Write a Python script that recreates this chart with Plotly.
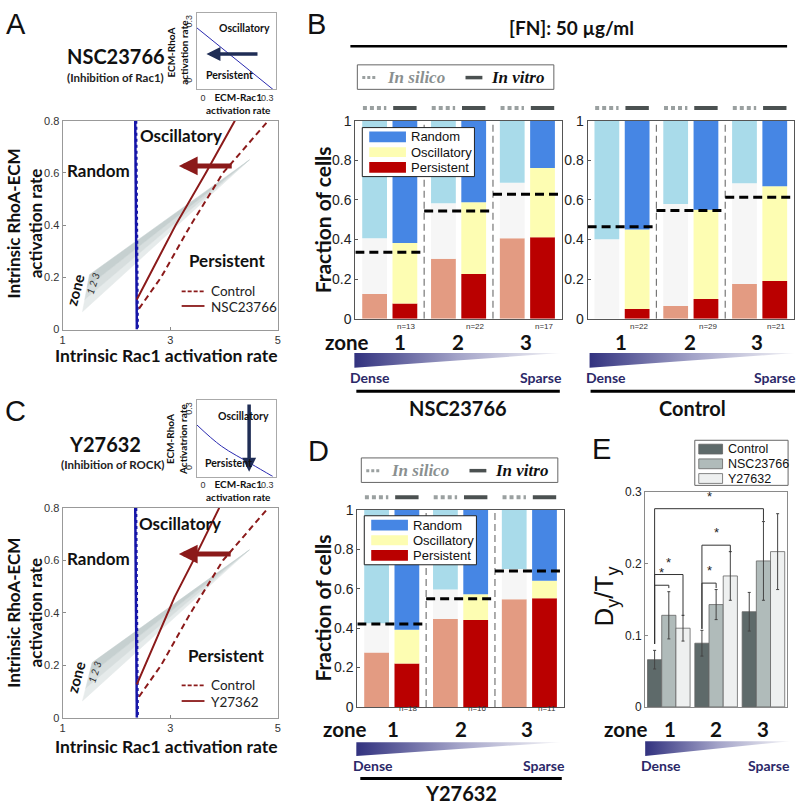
import plotly.graph_objects as go

W, H = 802, 809
def fx(p): return p / W
def fy(p): return 1 - p / H

CAL = "Lato"
ARI = "Liberation Sans"
SER = "Liberation Serif"

# ---------------- data ----------------
# insets (ECM-Rac1 vs ECM-RhoA boundary)
inset_A_x = [-0.03, 0.326]
inset_A_y = [0.275, -0.04]
inset_C_x = [-0.03, 0.086, 0.224, 0.326]
inset_C_y = [0.225, 0.115, 0.025, -0.04]

# phase diagrams A / C
blue_x = [2.35, 2.38]
blue_y = [0.8, 0.0]
control_x = [2.42, 2.83, 3.38, 3.98, 4.82]
control_y = [0.08, 0.20, 0.40, 0.60, 0.80]
nsc_line_x = [2.38, 3.10, 3.66, 4.20]
nsc_line_y = [0.115, 0.40, 0.60, 0.80]
y27_line_x = [2.38, 3.08, 3.43, 3.91]
y27_line_y = [0.127, 0.46, 0.60, 0.80]
band_A_x = [1.37, 1.50, 4.47]
band_A_y = [0.068, 0.21, 0.65]
band_C_x = [1.37, 1.55, 4.47]
band_C_y = [0.064, 0.21, 0.64]

# stacked fraction bars (persistent, oscillatory, random) per zone 1..3
zones = [1, 2, 3]
nsc_sil_P = [0.125, 0.303, 0.407]
nsc_sil_O = [0.282, 0.280, 0.280]
nsc_sil_R = [0.593, 0.417, 0.313]
nsc_vit_P = [0.077, 0.226, 0.412]
nsc_vit_O = [0.305, 0.362, 0.349]
nsc_vit_R = [0.618, 0.412, 0.239]
nsc_thr = [0.336, 0.544, 0.629]
nsc_n = [13, 22, 17]

ctl_sil_P = [0.0, 0.064, 0.175]
ctl_sil_O = [0.402, 0.516, 0.509]
ctl_sil_R = [0.598, 0.420, 0.316]
ctl_vit_P = [0.049, 0.100, 0.191]
ctl_vit_O = [0.402, 0.450, 0.478]
ctl_vit_R = [0.549, 0.450, 0.331]
ctl_thr = [0.465, 0.547, 0.613]
ctl_n = [22, 29, 21]

y27_sil_P = [0.276, 0.446, 0.546]
y27_sil_O = [0.148, 0.150, 0.154]
y27_sil_R = [0.576, 0.404, 0.300]
y27_vit_P = [0.220, 0.441, 0.552]
y27_vit_O = [0.171, 0.131, 0.088]
y27_vit_R = [0.609, 0.428, 0.360]
y27_thr = [0.421, 0.549, 0.690]
y27_n = [18, 16, 11]

# panel E
e_control = [0.066, 0.089, 0.133]
e_control_err = [0.013, 0.018, 0.027]
e_nsc = [0.128, 0.143, 0.204]
e_nsc_err = [0.033, 0.021, 0.055]
e_y27 = [0.110, 0.183, 0.217]
e_y27_err = [0.018, 0.034, 0.053]
# significance brackets: (group_left, zone_left, group_right, zone_right, bar_y, left_end, right_end)
e_brackets = [("c", 1, "n", 1, 0.170, 0.088, 0.166),
              ("c", 1, "y", 1, 0.185, 0.088, 0.127),
              ("c", 1, "n", 3, 0.277, 0.088, 0.260),
              ("c", 2, "n", 2, 0.173, 0.109, 0.166),
              ("c", 2, "y", 2, 0.226, 0.109, 0.216)]

# ---------------- styles ----------------
DRED = "#8B1A1A"
BLUE = "#1616A8"
C_SIL = {"P": "#E39B82", "O": "#F6F6F6", "R": "#A9DBEA"}
C_VIT = {"P": "#BA0000", "O": "#FDFDB2", "R": "#4686E4"}
E_COL = {"c": "#5E6A6A", "n": "#B0BBBA", "y": "#EEF0F0"}
E_OFF = {"c": -0.3, "n": 0.0, "y": 0.3}
NAVY = "#2B2868"

fig = go.Figure()
ann = []
shp = []

def T(x, y, text, size, family=CAL, color="#111", bold=False, italic=False,
      angle=0, xanchor="center", yanchor="middle"):
    if bold:
        text = "<b>%s</b>" % text
    if italic:
        text = "<i>%s</i>" % text
    ann.append(dict(x=fx(x), y=fy(y), xref="paper", yref="paper", text=text,
                    showarrow=False, textangle=angle, xanchor=xanchor, yanchor=yanchor,
                    font=dict(family=family, size=size, color=color)))

def L(x0, y0, x1, y1, color="black", width=1, dash="solid"):
    shp.append(dict(type="line", xref="paper", yref="paper", x0=fx(x0), y0=fy(y0),
                    x1=fx(x1), y1=fy(y1), line=dict(color=color, width=width, dash=dash)))

def R(x0, y0, x1, y1, fill, lc=None, lw=0):
    shp.append(dict(type="rect", xref="paper", yref="paper", x0=fx(x0), y0=fy(y0),
                    x1=fx(x1), y1=fy(y1), fillcolor=fill,
                    line=dict(color=lc or fill, width=lw)))

def base_axis(**kw):
    d = dict(showgrid=False, zeroline=False, showline=True, mirror=True,
             linecolor="#8a8a8a", linewidth=1, ticks="inside", ticklen=3,
             tickcolor="#8a8a8a", fixedrange=True,
             tickfont=dict(family=ARI, size=11, color="#333"))
    d.update(kw)
    return d

layout_axes = {}
def add_axes(n, xl, xr, yt, yb, xkw, ykw):
    xs = "xaxis" if n == 1 else "xaxis%d" % n
    ys = "yaxis" if n == 1 else "yaxis%d" % n
    yid = "y" if n == 1 else "y%d" % n
    xid = "x" if n == 1 else "x%d" % n
    layout_axes[xs] = base_axis(domain=[fx(xl), fx(xr)], anchor=yid, **xkw)
    layout_axes[ys] = base_axis(domain=[fy(yb), fy(yt)], anchor=xid, **ykw)
    return xid, yid

# ---------------- insets ----------------
inset_x = dict(range=[-0.03, 0.34], tickvals=[0, 0.3], ticktext=["0", "0.3"], ticks="",
               linecolor="#aaa", tickfont=dict(family=ARI, size=9, color="#333"))
inset_y = dict(range=[-0.04, 0.35], tickvals=[0, 0.3], ticktext=["0", "0.3"], ticks="",
               tickangle=-90, linecolor="#aaa", tickfont=dict(family=ARI, size=9, color="#333"))
ax1 = add_axes(1, 195, 275, 5, 83, dict(inset_x), dict(inset_y))
ax3 = add_axes(3, 195, 275, 400, 478, dict(inset_x), dict(inset_y))

for (xa, ya), ix, iy in [(ax1, inset_A_x, inset_A_y), (ax3, inset_C_x, inset_C_y)]:
    fig.add_trace(go.Scatter(x=ix, y=iy, mode="lines", line=dict(color="#2a2ab0", width=1),
                             xaxis=xa, yaxis=ya, line_shape="spline", hoverinfo="skip"))

# ---------------- phase diagrams ----------------
main_x = dict(range=[1, 5], tickvals=[1, 3, 5], ticktext=["1", "3", "5"], linecolor="#999")
main_y = dict(range=[0, 0.8], tickvals=[0, 0.2, 0.4, 0.6, 0.8],
              ticktext=["0", "0.2", "0.4", "0.6", "0.8"], linecolor="#999")
ax2 = add_axes(2, 60, 277, 115, 328, dict(main_x), dict(main_y))
ax4 = add_axes(4, 60, 277, 510, 724, dict(main_x), dict(main_y))

band_cols = ["#E6EBEB", "#D7DEDE", "#C6D0D0"]
for (xa, ya), bx, by, tx, ty in [(ax2, band_A_x, band_A_y, nsc_line_x, nsc_line_y),
                                 (ax4, band_C_x, band_C_y, y27_line_x, y27_line_y)]:
    (lx, ux, tipx), (ly, uy, tipy) = bx, by
    for k in range(3):
        f0, f1 = k / 3, (k + 1) / 3
        px = [lx + (ux - lx) * f0, lx + (ux - lx) * f1, tipx]
        py = [ly + (uy - ly) * f0, ly + (uy - ly) * f1, tipy]
        fig.add_trace(go.Scatter(x=px + [px[0]], y=py + [py[0]], fill="toself",
                                 fillcolor=band_cols[k], line=dict(width=0.5, color=band_cols[k]),
                                 mode="lines", xaxis=xa, yaxis=ya, hoverinfo="skip"))
    fig.add_trace(go.Scatter(x=blue_x, y=blue_y, mode="lines", line=dict(color=BLUE, width=2.5),
                             xaxis=xa, yaxis=ya, hoverinfo="skip"))
    fig.add_trace(go.Scatter(x=[v + 0.02 for v in blue_x], y=blue_y, mode="lines",
                             line=dict(color=BLUE, width=2, dash="dot"),
                             xaxis=xa, yaxis=ya, hoverinfo="skip"))
    fig.add_trace(go.Scatter(x=control_x, y=control_y, mode="lines",
                             line=dict(color=DRED, width=2, dash="6px,4px"),
                             xaxis=xa, yaxis=ya, hoverinfo="skip"))
    fig.add_trace(go.Scatter(x=tx, y=ty, mode="lines",
                             line=dict(color=DRED, width=2), xaxis=xa, yaxis=ya, hoverinfo="skip"))

# red arrows
for (xa, ya), yv, x0, x1 in [(ax2, 0.627, 4.17, 3.16), (ax4, 0.624, 4.15, 3.16)]:
    ann.append(dict(x=x1, y=yv, ax=x0, ay=yv, xref=xa, yref=ya, axref=xa, ayref=ya, text="",
                    showarrow=True, arrowhead=2, arrowsize=0.75, arrowwidth=5, arrowcolor=DRED))
# inset arrows
ann.append(dict(x=0.016, y=0.14, ax=0.261, ay=0.14, xref=ax1[0], yref=ax1[1], axref=ax1[0],
                ayref=ax1[1], text="", showarrow=True, arrowhead=2, arrowsize=0.8,
                arrowwidth=3.5, arrowcolor="#1F2D55"))
ann.append(dict(x=0.215, y=-0.015, ax=0.215, ay=0.335, xref=ax3[0], yref=ax3[1], axref=ax3[0],
                ayref=ax3[1], text="", showarrow=True, arrowhead=2, arrowsize=0.8,
                arrowwidth=3.5, arrowcolor="#1F2D55"))

# ---------------- fraction bar charts ----------------
bar_x = dict(range=[0, 3], showticklabels=False, ticks="", linecolor="#555")
bar_y = dict(range=[0, 1], tickvals=[0, 0.2, 0.4, 0.6, 0.8, 1],
             ticktext=["0", "0.2", "0.4", "0.6", "0.8", "1"], linecolor="#555", tickcolor="#555",
             tickfont=dict(family=ARI, size=14, color="#222"))
ax5 = add_axes(5, 355, 563, 115, 317, dict(bar_x), dict(bar_y))
ax6 = add_axes(6, 589, 797, 115, 317, dict(bar_x), dict(bar_y))
ax7 = add_axes(7, 357, 565, 512, 713, dict(bar_x), dict(bar_y))

SIL_OFF, VIT_OFF, BW = 0.28, 0.72, 0.36
charts = [
    (ax5, (nsc_sil_P, nsc_sil_O, nsc_sil_R), (nsc_vit_P, nsc_vit_O, nsc_vit_R), nsc_thr, nsc_n, 102, 325),
    (ax6, (ctl_sil_P, ctl_sil_O, ctl_sil_R), (ctl_vit_P, ctl_vit_O, ctl_vit_R), ctl_thr, ctl_n, 102, 325),
    (ax7, (y27_sil_P, y27_sil_O, y27_sil_R), (y27_vit_P, y27_vit_O, y27_vit_R), y27_thr, y27_n, 499, 721),
]
for (xa, ya), sil, vit, thr, nn, mark_y, n_y in charts:
    for series, off, cols in [(sil, SIL_OFF, C_SIL), (vit, VIT_OFF, C_VIT)]:
        P, O, Rr = series
        xs = [z - 1 + off for z in zones]
        fig.add_trace(go.Bar(x=xs, y=P, base=[0] * 3, width=BW, marker_color=cols["P"],
                             marker_line_width=0, xaxis=xa, yaxis=ya, hoverinfo="skip"))
        fig.add_trace(go.Bar(x=xs, y=O, base=P, width=BW, marker_color=cols["O"],
                             marker_line_width=0, xaxis=xa, yaxis=ya, hoverinfo="skip"))
        fig.add_trace(go.Bar(x=xs, y=Rr, base=[p + o for p, o in zip(P, O)], width=BW,
                             marker_color=cols["R"], marker_line_width=0,
                             xaxis=xa, yaxis=ya, hoverinfo="skip"))
    # zone dividers
    fig.add_trace(go.Scatter(x=[1, 1, None, 2, 2], y=[0, 1, None, 0, 1], mode="lines",
                             line=dict(color="#777", width=1.2, dash="7px,4px"),
                             xaxis=xa, yaxis=ya, hoverinfo="skip"))
    # thresholds
    tx, ty = [], []
    for z, t in zip(zones, thr):
        tx += [z - 1, z, None]
        ty += [t, t, None]
    fig.add_trace(go.Scatter(x=tx, y=ty, mode="lines",
                             line=dict(color="black", width=3, dash="9px,5px"),
                             xaxis=xa, yaxis=ya, hoverinfo="skip"))
    # in silico / in vitro markers above the bars
    for z in zones:
        shp.append(dict(type="line", xref=xa, yref="paper", x0=z - 1 + SIL_OFF - 0.17,
                        x1=z - 1 + SIL_OFF + 0.17, y0=fy(mark_y), y1=fy(mark_y),
                        line=dict(color="#9AA0A0", width=4, dash="4px,3px")))
        shp.append(dict(type="line", xref=xa, yref="paper", x0=z - 1 + VIT_OFF - 0.17,
                        x1=z - 1 + VIT_OFF + 0.17, y0=fy(mark_y), y1=fy(mark_y),
                        line=dict(color="#4B5151", width=4)))
    for z, n in zip(zones, nn):
        ann.append(dict(x=z - 1 + VIT_OFF + 0.03, y=fy(n_y), xref=xa, yref="paper",
                        text="n=%d" % n, showarrow=False,
                        font=dict(family=ARI, size=8, color="#333")))

# ---------------- panel E ----------------
ax8 = add_axes(8, 647, 790, 494, 713,
               dict(range=[0.5, 3.5], showticklabels=False, ticks="", linecolor="#8a8a8a"),
               dict(range=[0, 0.3], tickvals=[0, 0.1, 0.2, 0.3], ticktext=["0", "0.1", "0.2", "0.3"],
                    tickfont=dict(family=ARI, size=12, color="#222")))
for key, vals, errs in [("c", e_control, e_control_err), ("n", e_nsc, e_nsc_err), ("y", e_y27, e_y27_err)]:
    fig.add_trace(go.Bar(x=[z + E_OFF[key] for z in zones], y=vals, width=0.3,
                         marker=dict(color=E_COL[key], line=dict(color="#666", width=0.8)),
                         error_y=dict(type="data", array=errs, color="#444", thickness=1, width=1.5),
                         xaxis=ax8[0], yaxis=ax8[1], hoverinfo="skip"))
for gl, zl, gr, zr, yb, yle, yre in e_brackets:
    xl = zl + E_OFF[gl]
    xr = zr + E_OFF[gr]
    fig.add_trace(go.Scatter(x=[xl, xl, xr, xr], y=[yle, yb, yb, yre], mode="lines",
                             line=dict(color="#333", width=1), xaxis=ax8[0], yaxis=ax8[1],
                             hoverinfo="skip"))
    ann.append(dict(x=(xl + xr) / 2, y=yb + 0.004, xref=ax8[0], yref=ax8[1], text="*",
                    showarrow=False, yanchor="bottom",
                    font=dict(family=ARI, size=13, color="#222")))

# ---------------- overlay canvas (gradient wedges) ----------------
layout_axes["xaxis9"] = dict(domain=[0, 1], range=[0, W], visible=False, anchor="y9", fixedrange=True)
layout_axes["yaxis9"] = dict(domain=[0, 1], range=[H, 0], visible=False, anchor="x9", fixedrange=True)
wedges = [(354, 562, 352, 367), (591, 798, 352, 367), (356, 562, 749, 763), (647, 793, 748, 763)]
for xl, xr, yt, yb in wedges:
    fig.add_trace(go.Scatter(x=[xl, xr, xl, xl], y=[yt, yt, yb, yt], fill="toself", mode="lines",
                             line=dict(width=0),
                             fillgradient=dict(type="horizontal",
                                               colorscale=[[0, "#32327F"], [0.5, "#A3A3C8"], [1, "#F4F4F7"]]),
                             xaxis="x9", yaxis="y9", hoverinfo="skip"))

# ---------------- texts ----------------
# panel letters
for lt, x, y in [("A", 13, 16), ("B", 316, 16), ("C", 13, 411), ("D", 318, 452), ("E", 603, 450)]:
    T(x, y, lt, 29, family=ARI, color="#111")

# A
T(114, 49, "NSC23766", 20, bold=True)
T(113, 71, "(Inhibition of Rac1)", 11.5, bold=True, color="#222")
T(175, 45, "ECM-RhoA<br>activation rate", 10, bold=True, angle=-90)
T(237, 97, "ECM-Rac1<br>activation rate", 10, bold=True)
T(243, 20, "Oscillatory", 10.5, bold=True)
T(228, 68, "Persistent", 10.5, bold=True)
T(22, 220, "Intrinsic RhoA-ECM<br>activation rate", 17, bold=True, angle=-90)
T(165, 355, "Intrinsic Rac1 activation rate", 17.5, bold=True)
T(96, 166, "Random", 17, bold=True)
T(179, 130, "Oscillatory", 17, bold=True)
T(226, 258, "Persistent", 17, bold=True)
T(73, 287, "zone", 15, bold=True, angle=-75)
T(91, 281, "1 2 3", 10, italic=True, angle=-72, color="#333")
L(180, 289, 203, 289, DRED, 1.8, "4px,2px")
L(180, 304, 203, 304, DRED, 1.8)
T(208, 289, "Control", 13.5, xanchor="left", color="#222")
T(208, 305, "NSC23766", 13.5, xanchor="left", color="#222")

# C
T(103, 445, "Y27632", 20, bold=True)
T(111, 466, "(Inhibition of ROCK)", 11.5, bold=True, color="#222")
T(175, 440, "ECM-RhoA<br>Activatrion rate", 10, bold=True, angle=-90)
T(237, 492, "ECM-Rac1<br>activation rate", 10, bold=True)
T(242, 416, "Oscillatory", 10.5, bold=True)
T(227, 464, "Persistent", 10.5, bold=True)
T(22, 617, "Intrinsic RhoA-ECM<br>activation rate", 17, bold=True, angle=-90)
T(165, 753, "Intrinsic Rac1 activation rate", 17.5, bold=True)
T(96, 562, "Random", 17, bold=True)
T(178, 526, "Oscillatory", 17, bold=True)
T(225, 661, "Persistent", 17, bold=True)
T(73, 682, "zone", 15, bold=True, angle=-75)
T(92, 677, "1 2 3", 10, italic=True, angle=-72, color="#333")
L(180, 691, 203, 691, DRED, 1.8, "4px,2px")
L(180, 707, 203, 707, DRED, 1.8)
T(208, 691, "Control", 13.5, xanchor="left", color="#222")
T(208, 708, "Y27362", 13.5, xanchor="left", color="#222")

# B header
T(573, 20, "[FN]: 50 µg/ml", 19, bold=True)
L(350, 39, 790, 39, "black", 2.5)

def silico_legend(dx, dy):
    R(357 + dx, 58 + dy, 555 + dx, 83 + dy, "white", "#666", 1)
    L(362 + dx, 71 + dy, 376 + dx, 71 + dy, "#9AA0A0", 3, "3px,2px")
    T(385 + dx, 71 + dy, "In silico", 17, family=SER, color="#8A9090", bold=True, italic=True,
      xanchor="left")
    L(466 + dx, 71 + dy, 483 + dx, 71 + dy, "#4B5151", 3.5)
    T(490 + dx, 71 + dy, "In vitro", 17, family=SER, color="#111", bold=True, italic=True,
      xanchor="left")

silico_legend(0, 0)
silico_legend(4, 401)

def state_legend(dx, dy):
    R(362 + dx, 122 + dy, 475 + dx, 172 + dy, "white", "#222", 1)
    for (y0, y1, col, lab) in [(126, 137, C_VIT["R"], "Random"), (142, 152, C_VIT["O"], "Oscillatory"),
                               (157, 168, C_VIT["P"], "Persistent")]:
        R(369 + dx, y0 + dy, 406 + dx, y1 + dy, col)
        T(409 + dx, (y0 + y1) / 2 + dy, lab, 13, family=ARI, color="#111", xanchor="left")

state_legend(0, 0)
state_legend(2, 396)

T(322, 216, "Fraction of cells", 21, bold=True, angle=-90)
T(322, 612, "Fraction of cells", 21, bold=True, angle=-90)

for zy, xs in [(341, (347, 400, 458, 527)), (341, (None, 623, 692, 760)), (736, (345, 393, 461, 528)),
               (736, (628, 672, 718, 766))]:
    if xs[0] is not None:
        T(xs[0], zy, "zone", 20.5, bold=True)
    for k, x in enumerate(xs[1:]):
        T(x, zy, str(k + 1), 20.5, bold=True)

for x0, x1, yl, ylab, sub in [(356, 561, 391, 408, "NSC23766"), (592, 798, 391, 408, "Control"),
                              (360, 563, 786, 801, "Y27632")]:
    L(x0, yl, x1, yl, "black", 3)
    T((x0 + x1) / 2, ylab, sub, 20, bold=True)

for yv, xd, xs_ in [(377, 370, 542), (377, 608, 778), (773, 373, 545), (773, 663, 772)]:
    T(xd, yv, "Dense", 14, bold=True, color=NAVY)
    T(xs_, yv, "Sparse", 14, bold=True, color=NAVY)

# E
T(607, 600, "D<sub>y</sub>/T<sub>y</sub>", 26, family=ARI, angle=-90)
R(697, 441, 791, 487, "white", "#666", 1)
for (y0, y1, col, lab) in [(445, 455, E_COL["c"], "Control"), (460, 470, E_COL["n"], "NSC23766"),
                           (475, 485, E_COL["y"], "Y27632")]:
    shp.append(dict(type="rect", xref="paper", yref="paper", x0=fx(701), x1=fx(725), y0=fy(y1),
                    y1=fy(y0), fillcolor=col, line=dict(color="#666", width=0.8)))
    T(728, (y0 + y1) / 2, lab, 12.5, family=ARI, color="#111", xanchor="left")

fig.update_layout(width=W, height=H, autosize=False, margin=dict(l=0, r=0, t=0, b=0),
                  paper_bgcolor="white", plot_bgcolor="rgba(0,0,0,0)", showlegend=False,
                  barmode="overlay", annotations=ann, shapes=shp, **layout_axes)
fig.write_html("out.html", config={"displayModeBar": False, "staticPlot": True},
               post_script="document.body.style.margin='0px';")
